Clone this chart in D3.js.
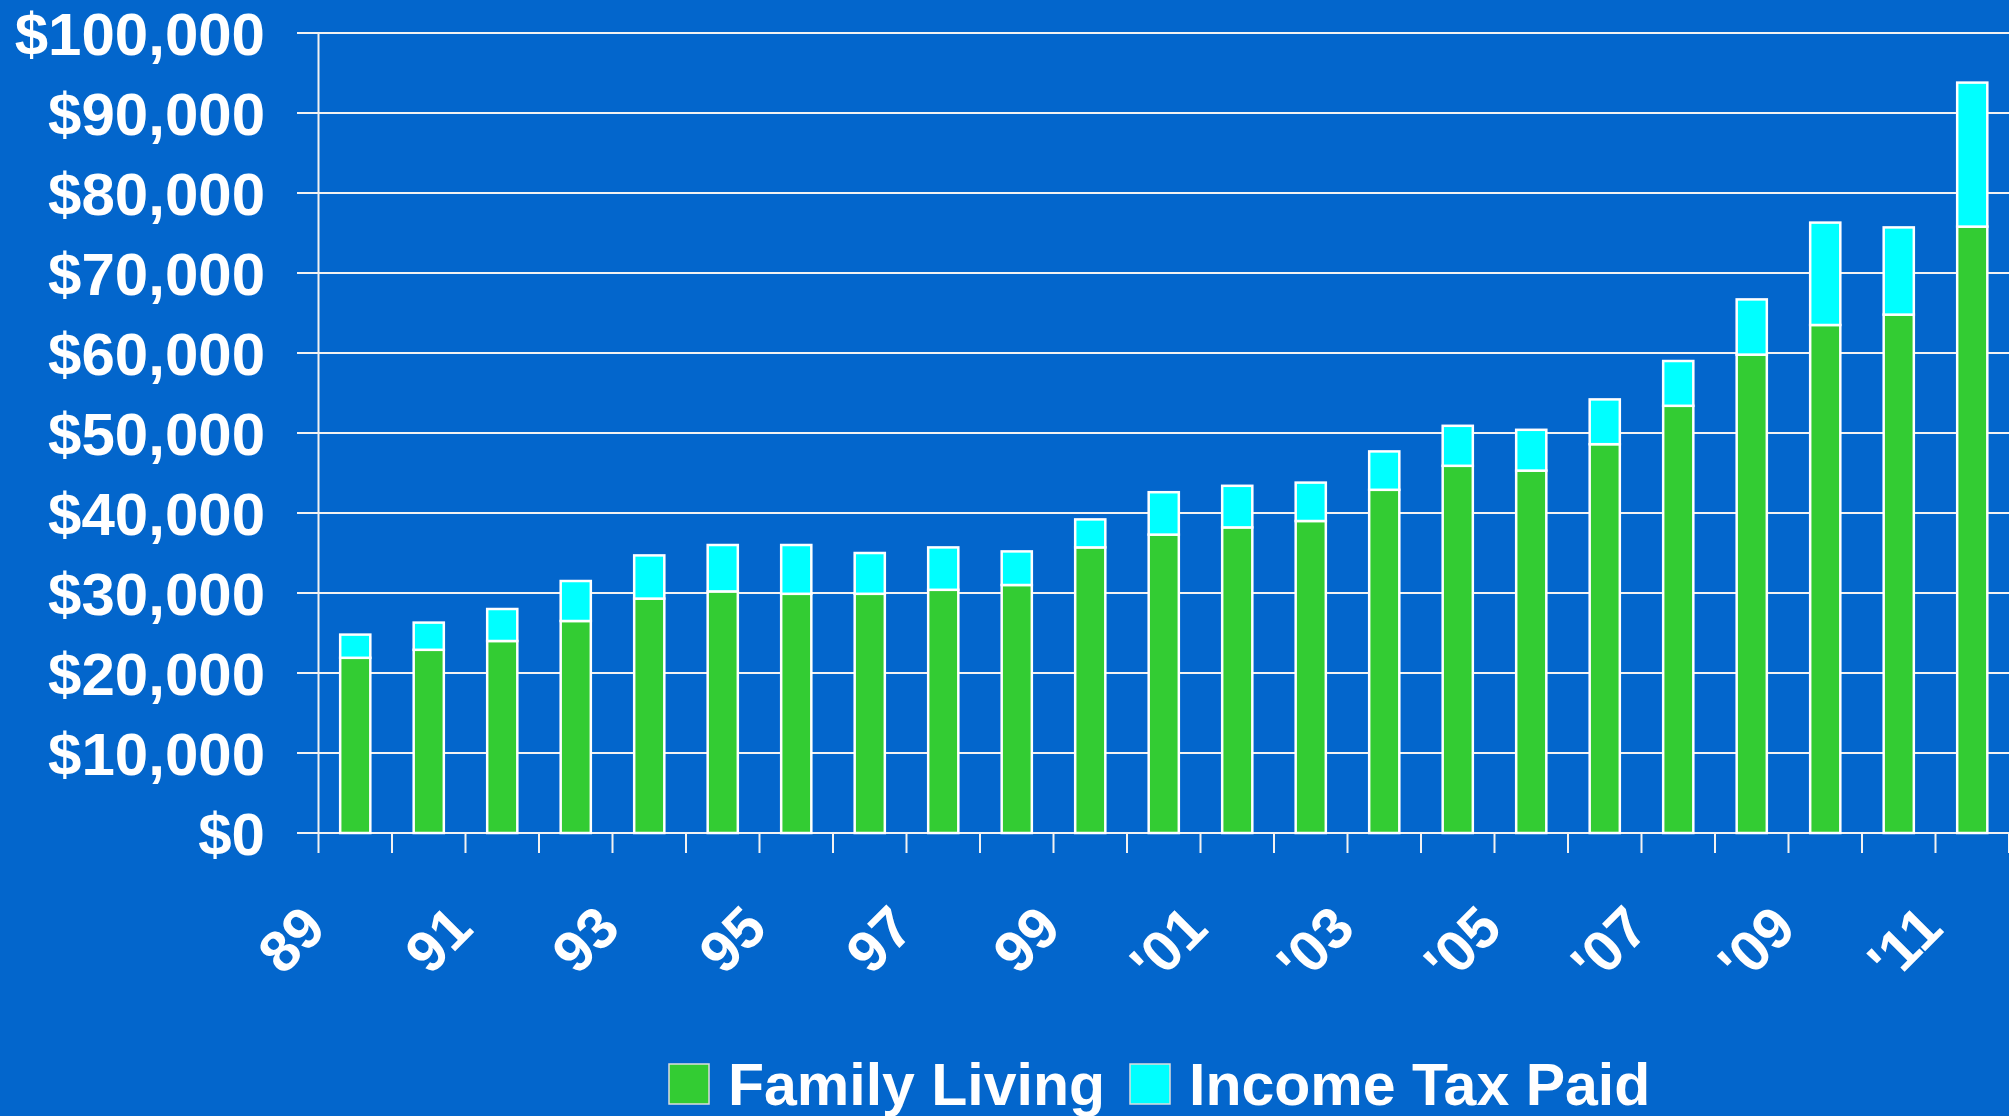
<!DOCTYPE html>
<html>
<head>
<meta charset="utf-8">
<script src="https://cdn.jsdelivr.net/npm/d3@7"></script>
<style>
  html, body { margin: 0; padding: 0; background: #0366cc; }
  svg { display: block; }
  text { font-family: "Liberation Sans", Arial, sans-serif; font-weight: bold; fill: #fff; }
</style>
</head>
<body>
<svg id="chart" width="2009" height="1116"></svg>
<script>
// années (étiquettes de catégorie)
var years = ["89","90","91","92","93","94","95","96","97","98","99",
             "'00","'01","'02","'03","'04","'05","'06","'07","'08","'09","'10","'11"];

// valeurs, en dollars
var family_living = [21900, 22900, 24000, 26500, 29300, 30200, 29900, 29900, 30400, 31000, 35700,
                     37300, 38200, 39000, 42900, 45900, 45300, 48600, 53400, 59800, 63500, 64800, 75800];
var income_tax = [2900, 3400, 4000, 5000, 5400, 5800, 6100, 5100, 5300, 4200, 3500,
                  5300, 5200, 4800, 4800, 5000, 5100, 5600, 5600, 6900, 12800, 10900, 18000];

var series_names = ["Family Living", "Income Tax Paid"];
var series_colors = ["#33cc33", "#00ffff"];
var y_ticks = [0, 10000, 20000, 30000, 40000, 50000, 60000, 70000, 80000, 90000, 100000];

// attention: "top" est déjà pris par window.top
var plot_left = 318.5, plot_right = 2009, plot_top = 33, plot_bottom = 833;

var svg = d3.select("#chart");

// table pour d3.stack
var table = years.map(function(y, i){
    return {year: y, "Family Living": family_living[i], "Income Tax Paid": income_tax[i]};
});

var x = d3.scaleBand()
    .domain(years)
    .range([plot_left, plot_right])
    .paddingInner(0.59)
    .paddingOuter(0.295);

var y = d3.scaleLinear()
    .domain([0, 100000])
    .range([plot_bottom, plot_top]);

var color = d3.scaleOrdinal().domain(series_names).range(series_colors);

// lignes de la grille
svg.append("g")
    .selectAll("line")
    .data(y_ticks)
    .enter()
    .append("line")
    .attr("x1", 297)
    .attr("x2", plot_right)
    .attr("y1", function(d){ return y(d); })
    .attr("y2", function(d){ return y(d); })
    .attr("stroke", "#f2f2f2")
    .attr("stroke-width", 2);

// étiquettes de l'axe vertical
svg.append("g")
    .selectAll("text")
    .data(y_ticks)
    .enter()
    .append("text")
    .attr("x", 265)
    .attr("y", function(d){ return y(d); })
    .attr("dy", "0.36em")
    .attr("text-anchor", "end")
    .style("font-size", "60px")
    .text(function(d){ return d3.format("$,")(d); });

// axe vertical
svg.append("line")
    .attr("x1", plot_left).attr("x2", plot_left)
    .attr("y1", plot_top).attr("y2", plot_bottom + 20)
    .attr("stroke", "#f2f2f2")
    .attr("stroke-width", 2);

// petites marques entre les catégories
var boundaries = d3.range(1, years.length + 1);
svg.append("g")
    .selectAll("line")
    .data(boundaries)
    .enter()
    .append("line")
    .attr("x1", function(i){ return plot_left + i * x.step(); })
    .attr("x2", function(i){ return plot_left + i * x.step(); })
    .attr("y1", plot_bottom)
    .attr("y2", plot_bottom + 20)
    .attr("stroke", "#f2f2f2")
    .attr("stroke-width", 2);

// barres empilées
var stacked = d3.stack().keys(series_names)(table);

svg.append("g")
    .selectAll("g")
    .data(stacked)
    .enter()
    .append("g")
    .attr("fill", function(d){ return color(d.key); })
    .selectAll("rect")
    .data(function(d){ return d; })
    .enter()
    .append("rect")
    .attr("x", function(d){ return x(d.data.year); })
    .attr("y", function(d){ return y(d[1]); })
    .attr("width", x.bandwidth())
    .attr("height", function(d){ return y(d[0]) - y(d[1]); })
    .attr("stroke", "#ffffff")
    .attr("stroke-width", 2.5);

// étiquettes des années (une sur deux), tournées de 45 degrés
svg.append("g")
    .selectAll("text")
    .data(years.filter(function(d, i){ return i % 2 == 0; }))
    .enter()
    .append("text")
    .attr("transform", function(d){
        var cx = x(d) + x.bandwidth() / 2 - 27;
        return "translate(" + cx + "," + (plot_bottom + 98) + ") rotate(-45)";
    })
    .attr("text-anchor", "end")
    .style("font-size", "58px")
    .text(function(d){ return d; });

// légende
var legend = svg.append("g");
var legend_x = [669, 1130];
series_names.forEach(function(name, i){
    legend.append("rect")
        .attr("x", legend_x[i])
        .attr("y", 1064)
        .attr("width", 40)
        .attr("height", 40)
        .attr("fill", series_colors[i])
        .attr("stroke", "#dddddd")
        .attr("stroke-width", 1.5);
    legend.append("text")
        .attr("x", legend_x[i] + 59)
        .attr("y", 1105)
        .style("font-size", "59px")
        .text(name);
});
</script>
</body>
</html>
